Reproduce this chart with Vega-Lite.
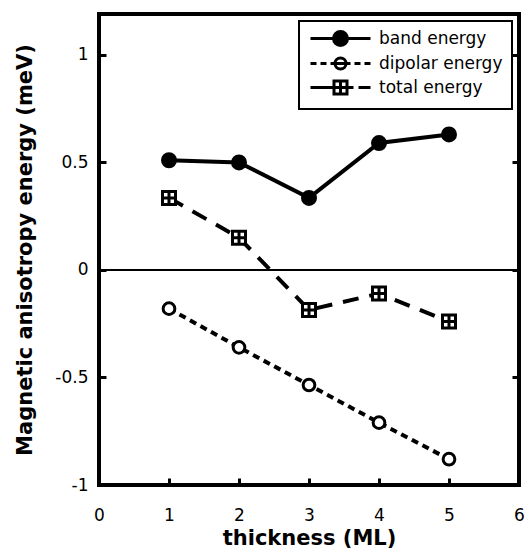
{
  "$schema": "https://vega.github.io/schema/vega-lite/v6.json",
  "width": 420,
  "height": 471,
  "autosize": "none",
  "padding": {"left": 99, "top": 14, "right": 6, "bottom": 68},
  "background": "white",
  "config": {
    "view": {"stroke": "black", "strokeWidth": 4},
    "legend": {"strokeWidth": 2},
    "axis": {
      "grid": false,
      "domain": false,
      "ticks": true,
      "tickColor": "black",
      "tickWidth": 3,
      "tickSize": -7,
      "labelColor": "black",
      "titleColor": "black",
      "labelFont": "DejaVu Sans",
      "labelFontSize": 17,
      "titleFont": "DejaVu Sans",
      "titleFontSize": 21,
      "titleFontWeight": "bold"
    }
  },
  "datasets": {
    "energies": [
      {"series": "band energy", "thickness": 1, "energy": 0.51},
      {"series": "band energy", "thickness": 2, "energy": 0.5},
      {"series": "band energy", "thickness": 3, "energy": 0.335},
      {"series": "band energy", "thickness": 4, "energy": 0.59},
      {"series": "band energy", "thickness": 5, "energy": 0.63},
      {"series": "dipolar energy", "thickness": 1, "energy": -0.18},
      {"series": "dipolar energy", "thickness": 2, "energy": -0.36},
      {"series": "dipolar energy", "thickness": 3, "energy": -0.535},
      {"series": "dipolar energy", "thickness": 4, "energy": -0.71},
      {"series": "dipolar energy", "thickness": 5, "energy": -0.88},
      {"series": "total energy", "thickness": 1, "energy": 0.335},
      {"series": "total energy", "thickness": 2, "energy": 0.15},
      {"series": "total energy", "thickness": 3, "energy": -0.186},
      {"series": "total energy", "thickness": 4, "energy": -0.11},
      {"series": "total energy", "thickness": 5, "energy": -0.24}
    ],
    "zero": [{"energy": 0}]
  },
  "layer": [
    {
      "data": {"name": "zero"},
      "mark": {"type": "rule", "color": "black", "strokeWidth": 2},
      "encoding": {
        "y": {
          "field": "energy",
          "type": "quantitative",
          "scale": {"domain": [-1, 1.19], "nice": false, "zero": false},
          "axis": {"orient": "right", "labels": false, "title": null, "values": [-0.5, 0, 0.5, 1]}
        }
      }
    },
    {
      "data": {"name": "energies"},
      "transform": [{"filter": "datum.series === 'band energy'"}],
      "mark": {"type": "line", "color": "black", "strokeWidth": 4},
      "encoding": {
        "x": {
          "field": "thickness",
          "type": "quantitative",
          "scale": {"domain": [0, 6], "nice": false, "zero": false},
          "axis": {"values": [0, 1, 2, 3, 4, 5, 6], "labelExpr": "'' + datum.value", "title": "thickness (ML)", "labelPadding": 29, "titlePadding": 4, "labelFlush": false}
        },
        "y": {
          "field": "energy",
          "type": "quantitative",
          "scale": {"domain": [-1, 1.19], "nice": false, "zero": false},
          "axis": {"orient": "left", "values": [-1, -0.5, 0, 0.5, 1], "labelExpr": "'' + datum.value", "title": "Magnetic anisotropy energy (meV)", "labelPadding": 18, "titlePadding": 19, "labelFlush": false}
        }
      }
    },
    {
      "data": {"name": "energies"},
      "transform": [{"filter": "datum.series === 'dipolar energy'"}],
      "mark": {"type": "line", "color": "black", "strokeWidth": 4, "strokeDash": [7, 5]},
      "encoding": {
        "x": {"field": "thickness", "type": "quantitative"},
        "y": {"field": "energy", "type": "quantitative", "axis": null}
      }
    },
    {
      "data": {"name": "energies"},
      "transform": [{"filter": "datum.series === 'total energy'"}],
      "mark": {"type": "line", "color": "black", "strokeWidth": 4, "strokeDash": [16, 11]},
      "encoding": {
        "x": {"field": "thickness", "type": "quantitative"},
        "y": {"field": "energy", "type": "quantitative", "axis": null}
      }
    },
    {
      "data": {"name": "energies"},
      "mark": {"type": "point", "filled": true, "opacity": 0, "strokeWidth": 3, "size": 100},
      "encoding": {
        "x": {"field": "thickness", "type": "quantitative"},
        "y": {"field": "energy", "type": "quantitative", "axis": null},
        "fill": {
          "field": "series",
          "type": "nominal",
          "scale": {"domain": ["band energy", "dipolar energy", "total energy"], "range": ["black", "white", "white"]},
          "legend": {
            "title": null, "orient": "top-right", "offset": 7, "padding": 9,
            "strokeColor": "black", "fillColor": "white",
            "labelFont": "DejaVu Sans", "labelFontSize": 17, "labelColor": "black",
            "rowPadding": 0, "symbolSize": 100, "symbolOffset": 24, "labelOffset": 30,
            "symbolStrokeWidth": 3, "symbolOpacity": 1
          }
        },
        "stroke": {
          "field": "series",
          "type": "nominal",
          "scale": {"domain": ["band energy", "dipolar energy", "total energy"], "range": ["black", "black", "black"]},
          "legend": {
            "title": null, "orient": "top-right", "offset": 7, "padding": 9,
            "strokeColor": "black", "fillColor": "white",
            "labelFont": "DejaVu Sans", "labelFontSize": 17, "labelColor": "black",
            "rowPadding": 0, "symbolSize": 100, "symbolOffset": 24, "labelOffset": 30,
            "symbolStrokeWidth": 3, "symbolOpacity": 1
          }
        },
        "shape": {
          "field": "series",
          "type": "nominal",
          "scale": {
            "domain": ["band energy", "dipolar energy", "total energy"],
            "range": [
              "M-6,0H6M-1.4,0A1.4,1.4,0,1,1,1.4,0A1.4,1.4,0,1,1,-1.4,0Z",
              "M-6,0H-4.8M-4,0H-2.8M-2,0H-1.2M-1.1,0A1.1,1.1,0,1,1,1.1,0A1.1,1.1,0,1,1,-1.1,0ZM-1.1,0H1.1M1.3,0H2M2.8,0H4M4.8,0H6",
              "M-6,0H-1.3M-1.3,-1.3H1.3V1.3H-1.3ZM0,-1.3V1.3M-1.3,0H1.3M1.3,0H2.6M3.6,0H6"
            ]
          },
          "legend": {
            "title": null, "orient": "top-right", "offset": 7, "padding": 9,
            "strokeColor": "black", "fillColor": "white",
            "labelFont": "DejaVu Sans", "labelFontSize": 17, "labelColor": "black",
            "rowPadding": 0, "symbolSize": 100, "symbolOffset": 24, "labelOffset": 30,
            "symbolStrokeWidth": 3, "symbolOpacity": 1
          }
        }
      }
    },
    {
      "data": {"name": "energies"},
      "transform": [{"filter": "datum.series === 'band energy'"}],
      "mark": {"type": "point", "shape": "M-1,0A1,1,0,1,1,1,0A1,1,0,1,1,-1,0Z", "filled": true, "fill": "black", "stroke": "black", "strokeWidth": 3, "opacity": 1, "size": 169},
      "encoding": {
        "x": {"field": "thickness", "type": "quantitative"},
        "y": {"field": "energy", "type": "quantitative", "axis": null}
      }
    },
    {
      "data": {"name": "energies"},
      "transform": [{"filter": "datum.series === 'dipolar energy'"}],
      "mark": {"type": "point", "shape": "M-0.9,0A0.9,0.9,0,1,1,0.9,0A0.9,0.9,0,1,1,-0.9,0Z", "filled": true, "fill": "white", "stroke": "black", "strokeWidth": 3, "opacity": 1, "size": 169},
      "encoding": {
        "x": {"field": "thickness", "type": "quantitative"},
        "y": {"field": "energy", "type": "quantitative", "axis": null}
      }
    },
    {
      "data": {"name": "energies"},
      "transform": [{"filter": "datum.series === 'total energy'"}],
      "mark": {"type": "point", "shape": "M-1,-1H1V1H-1ZM0,-1V1M-1,0H1", "filled": true, "fill": "white", "stroke": "black", "strokeWidth": 3, "opacity": 1, "size": 169},
      "encoding": {
        "x": {"field": "thickness", "type": "quantitative"},
        "y": {"field": "energy", "type": "quantitative", "axis": null}
      }
    }
  ],
  "resolve": {"axis": {"y": "independent"}}
}
